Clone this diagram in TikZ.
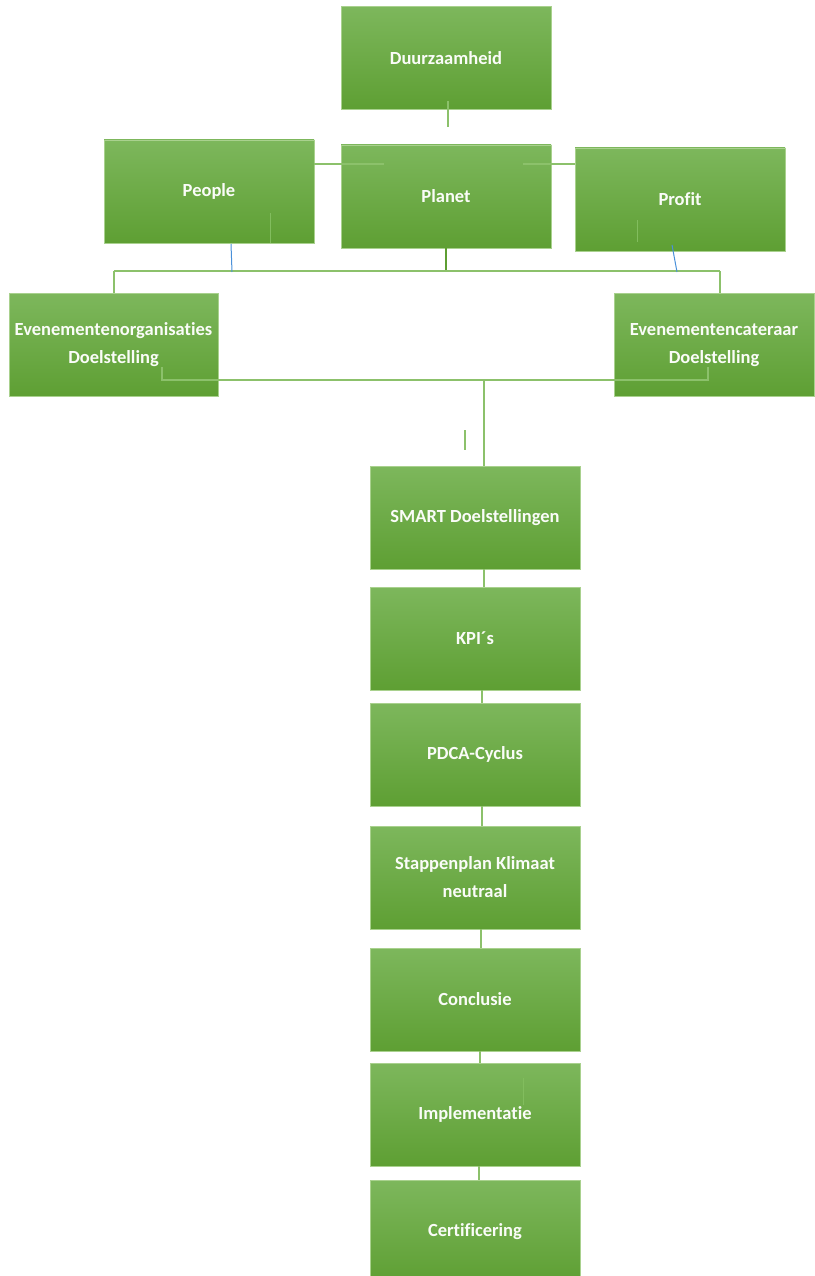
\documentclass[tikz,border=0pt]{standalone}
\usepackage{fontspec}
\setmainfont{Carlito}[Ligatures=NoCommon]
\definecolor{gtop}{HTML}{7DB75C}
\definecolor{gmid}{HTML}{6CB23F}
\definecolor{gbot}{HTML}{5E9F33}
\definecolor{boxedge}{HTML}{A9D18E}
\definecolor{lineg}{HTML}{8CC16B}
\definecolor{lined}{HTML}{5E9E32}
\definecolor{lineb}{HTML}{4A90D9}
\begin{document}
\begin{tikzpicture}[x=1pt,y=-1pt,
  box/.style={draw=boxedge, line width=0.8pt, top color=gtop, middle color=gmid, bottom color=gbot,
    minimum width=210pt, minimum height=103pt, inner sep=0pt, text=white!96!gtop, align=center,
    font=\fontsize{18.5}{28}\selectfont\bfseries},
  conn/.style={draw=lineg, line width=1.6pt},
  faint/.style={draw=lineg!70!gmid, line width=0.8pt},
  blueconn/.style={draw=lineb, line width=1pt}]
\useasboundingbox (0,0) rectangle (814,1276);
% top level
\node[box] (duur) at (446,58) {Duurzaamheid};
\node[box] (planet) at (446,196.5) {Planet};
\node[box] (people) at (209,191.5) {People};
\node[box] (profit) at (680,199.5) {Profit};
\node[box, minimum width=209pt] (org) at (113.5,345) {Evenementenorganisaties\\Doelstelling};
\node[box, minimum width=200pt] (cat) at (714,345) {Evenementencateraar\\Doelstelling};
% chain
\node[box] (smart) at (475,517.5) {SMART Doelstellingen};
\node[box] (kpi) at (475,638.5) {KPI´s};
\node[box] (pdca) at (475,754.5) {PDCA-Cyclus};
\node[box] (stap) at (475,877.5) {Stappenplan Klimaat\\neutraal};
\node[box] (concl) at (475,999.5) {Conclusie};
\node[box] (impl) at (475,1114.5) {Implementatie};
\node[box] (cert) at (475,1231.5) {Certificering};
% coordinates
\coordinate (d1) at (448,101);
\coordinate (d2) at (448,127);
\coordinate (bl) at (114,271);
\coordinate (br) at (720,271);
\coordinate (bm) at (446,271);
\coordinate (lb) at (162,380);
\coordinate (rb) at (708,380);
\coordinate (mb) at (484,380);
% Duurzaamheid stub
\draw[conn] (d1) -- (d2);
% horizontal links top row
\draw[conn] (people.east |- 0,164) -- (384,164);
\draw[conn] (523,164) -- (profit.west |- 0,164);
% faint ticks inside boxes
\draw[faint] (270,213) -- (270,243);
\draw[faint] (637,220) -- (637,242);
\draw[faint] (523,1078) -- (523,1105);
% bus under planet
\draw[draw=lined, line width=2.6pt] (planet.south) -- (bm);
\draw[conn] (bl) -- (br);
\draw[conn] (bl) -- (org.north -| bl);
\draw[conn] (br) -- (cat.north -| br);
% blue lines
\draw[blueconn] (231,244) -- (232,272);
\draw[blueconn] (672,245) -- (677,272);
% lower bus
\draw[conn] (162,367) -- (lb) -- (rb) -- (708,367);
\draw[conn] (mb) -- (smart.north -| mb);
\draw[conn] (465,430) -- (465,450);
% chain links
\draw[conn] (smart.south -| 484,0) -- (kpi.north -| 484,0);
\draw[conn] (kpi.south -| 482,0) -- (pdca.north -| 482,0);
\draw[conn] (pdca.south -| 482,0) -- (stap.north -| 482,0);
\draw[conn] (stap.south -| 481,0) -- (concl.north -| 481,0);
\draw[conn] (concl.south -| 480,0) -- (impl.north -| 480,0);
\draw[conn] (impl.south -| 479,0) -- (cert.north -| 479,0);
\end{tikzpicture}
\end{document}
